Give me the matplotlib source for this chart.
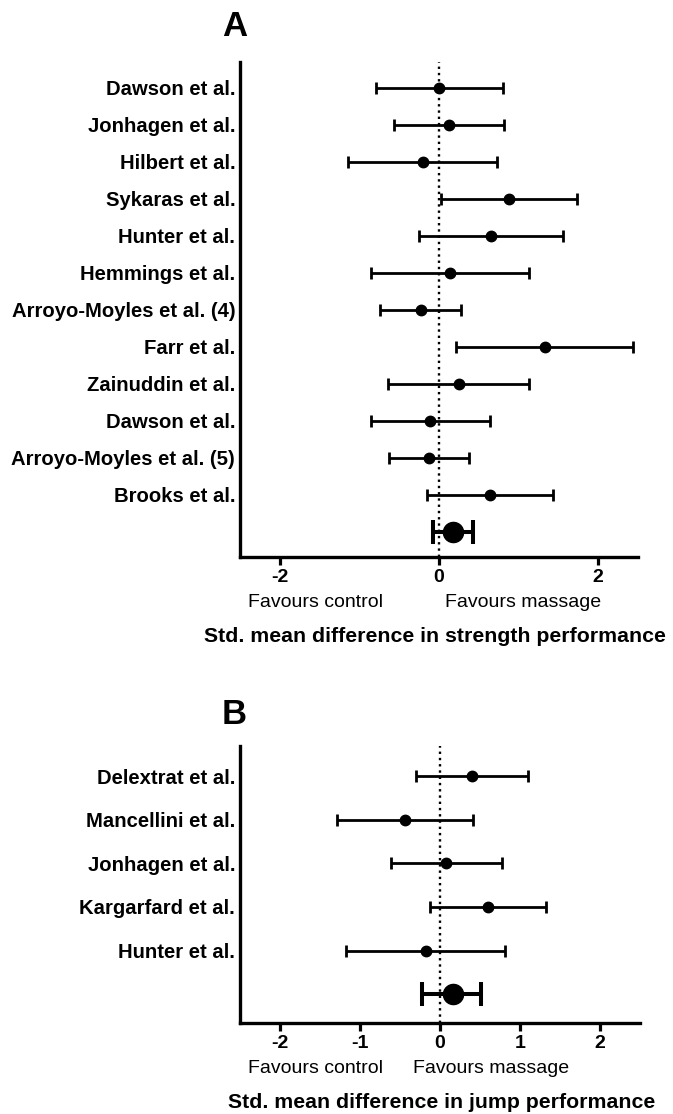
import matplotlib
matplotlib.use("Agg")
import matplotlib.pyplot as plt

plt.rcParams['font.family'] = ['Liberation Sans', 'DejaVu Sans']

# panel A: strength
estudios_a = ["Dawson et al.", "Jonhagen et al.", "Hilbert et al.", "Sykaras et al.",
              "Hunter et al.", "Hemmings et al.", "Arroyo-Moyles et al. (4)", "Farr et al.",
              "Zainuddin et al.", "Dawson et al.", "Arroyo-Moyles et al. (5)", "Brooks et al."]
smd_a = [0.00, 0.12, -0.20, 0.88, 0.65, 0.14, -0.23, 1.33, 0.25, -0.11, -0.13, 0.64]
bajo_a = [-0.79, -0.57, -1.14, 0.02, -0.25, -0.85, -0.74, 0.21, -0.64, -0.86, -0.63, -0.15]
alto_a = [0.81, 0.82, 0.73, 1.73, 1.56, 1.13, 0.28, 2.44, 1.13, 0.64, 0.38, 1.43]
total_a = [0.18, -0.08, 0.43]  # smd, bajo, alto
ticks_a = [-2, 0, 2]

# panel B: jump
estudios_b = ["Delextrat et al.", "Mancellini et al.", "Jonhagen et al.",
              "Kargarfard et al.", "Hunter et al."]
smd_b = [0.40, -0.44, 0.08, 0.60, -0.18]
bajo_b = [-0.30, -1.29, -0.61, -0.13, -1.17]
alto_b = [1.10, 0.41, 0.77, 1.33, 0.81]
total_b = [0.16, -0.22, 0.51]
ticks_b = [-2, -1, 0, 1, 2]


def forest(ax, estudios, smd, bajo, alto, total, ticks, ylim, xlabel, massage_x, label_x):
    n = len(estudios)
    y = list(range(1, n + 1))
    err = [[s - b for s, b in zip(smd, bajo)], [a - s for s, a in zip(smd, alto)]]
    ax.errorbar(smd, y, xerr=err, fmt='o', color='black', ms=7.5, lw=2.0,
                capsize=4.3, capthick=2.0, zorder=3)
    ax.errorbar([total[0]], [n + 1], xerr=[[total[0] - total[1]], [total[2] - total[0]]],
                fmt='o', color='black', ms=14.5, lw=2.9, capsize=8.3, capthick=2.9, zorder=3)
    ax.axvline(0, color='black', ls=':', lw=1.7, zorder=1)
    ax.set_xlim(-2.5, 2.5)
    ax.set_ylim(*ylim)
    ax.set_yticks(y)
    ax.set_yticklabels(estudios, fontsize=14.6, fontweight='bold')
    ax.tick_params(axis='y', length=0, pad=3.5)
    ax.set_xticks(ticks)
    ax.set_xticklabels([str(t) for t in ticks], fontsize=14, fontweight='bold')
    ax.tick_params(axis='x', length=6, width=2.3, pad=3)
    for s in ['top', 'right']:
        ax.spines[s].set_visible(False)
    for s in ['left', 'bottom']:
        ax.spines[s].set_linewidth(2.4)
    ax.annotate("Favours control", xy=(-1.55, 0), xycoords=('data', 'axes fraction'),
                xytext=(0, -32.5), textcoords='offset points', ha='center', va='center',
                fontsize=14)
    ax.annotate("Favours massage", xy=(massage_x, 0), xycoords=('data', 'axes fraction'),
                xytext=(0, -32.5), textcoords='offset points', ha='center', va='center',
                fontsize=14)
    ax.annotate(xlabel, xy=(label_x, 0), xycoords='axes fraction',
                xytext=(0, -57), textcoords='offset points', ha='center', va='center',
                fontsize=15.3, fontweight='bold')


fig = plt.figure(figsize=(6.73, 11.14), dpi=100)

ax1 = fig.add_axes([0.3566, 0.5, 0.5914, 0.4443])
forest(ax1, estudios_a, smd_a, bajo_a, alto_a, total_a, ticks_a, (13.68, 0.30),
       "Std. mean difference in strength performance", 1.05, 0.49)

ax2 = fig.add_axes([0.3566, 0.0817, 0.5944, 0.2486])
forest(ax2, estudios_b, smd_b, bajo_b, alto_b, total_b, ticks_b, (6.66, 0.31),
       "Std. mean difference in jump performance", 0.64, 0.505)

fig.text(222 / 673, 1 - 10 / 1114, "A", fontsize=25, fontweight='bold', va='top')
fig.text(222 / 673, 1 - 698 / 1114, "B", fontsize=25, fontweight='bold', va='top')

fig.savefig("out.png", dpi=100)
